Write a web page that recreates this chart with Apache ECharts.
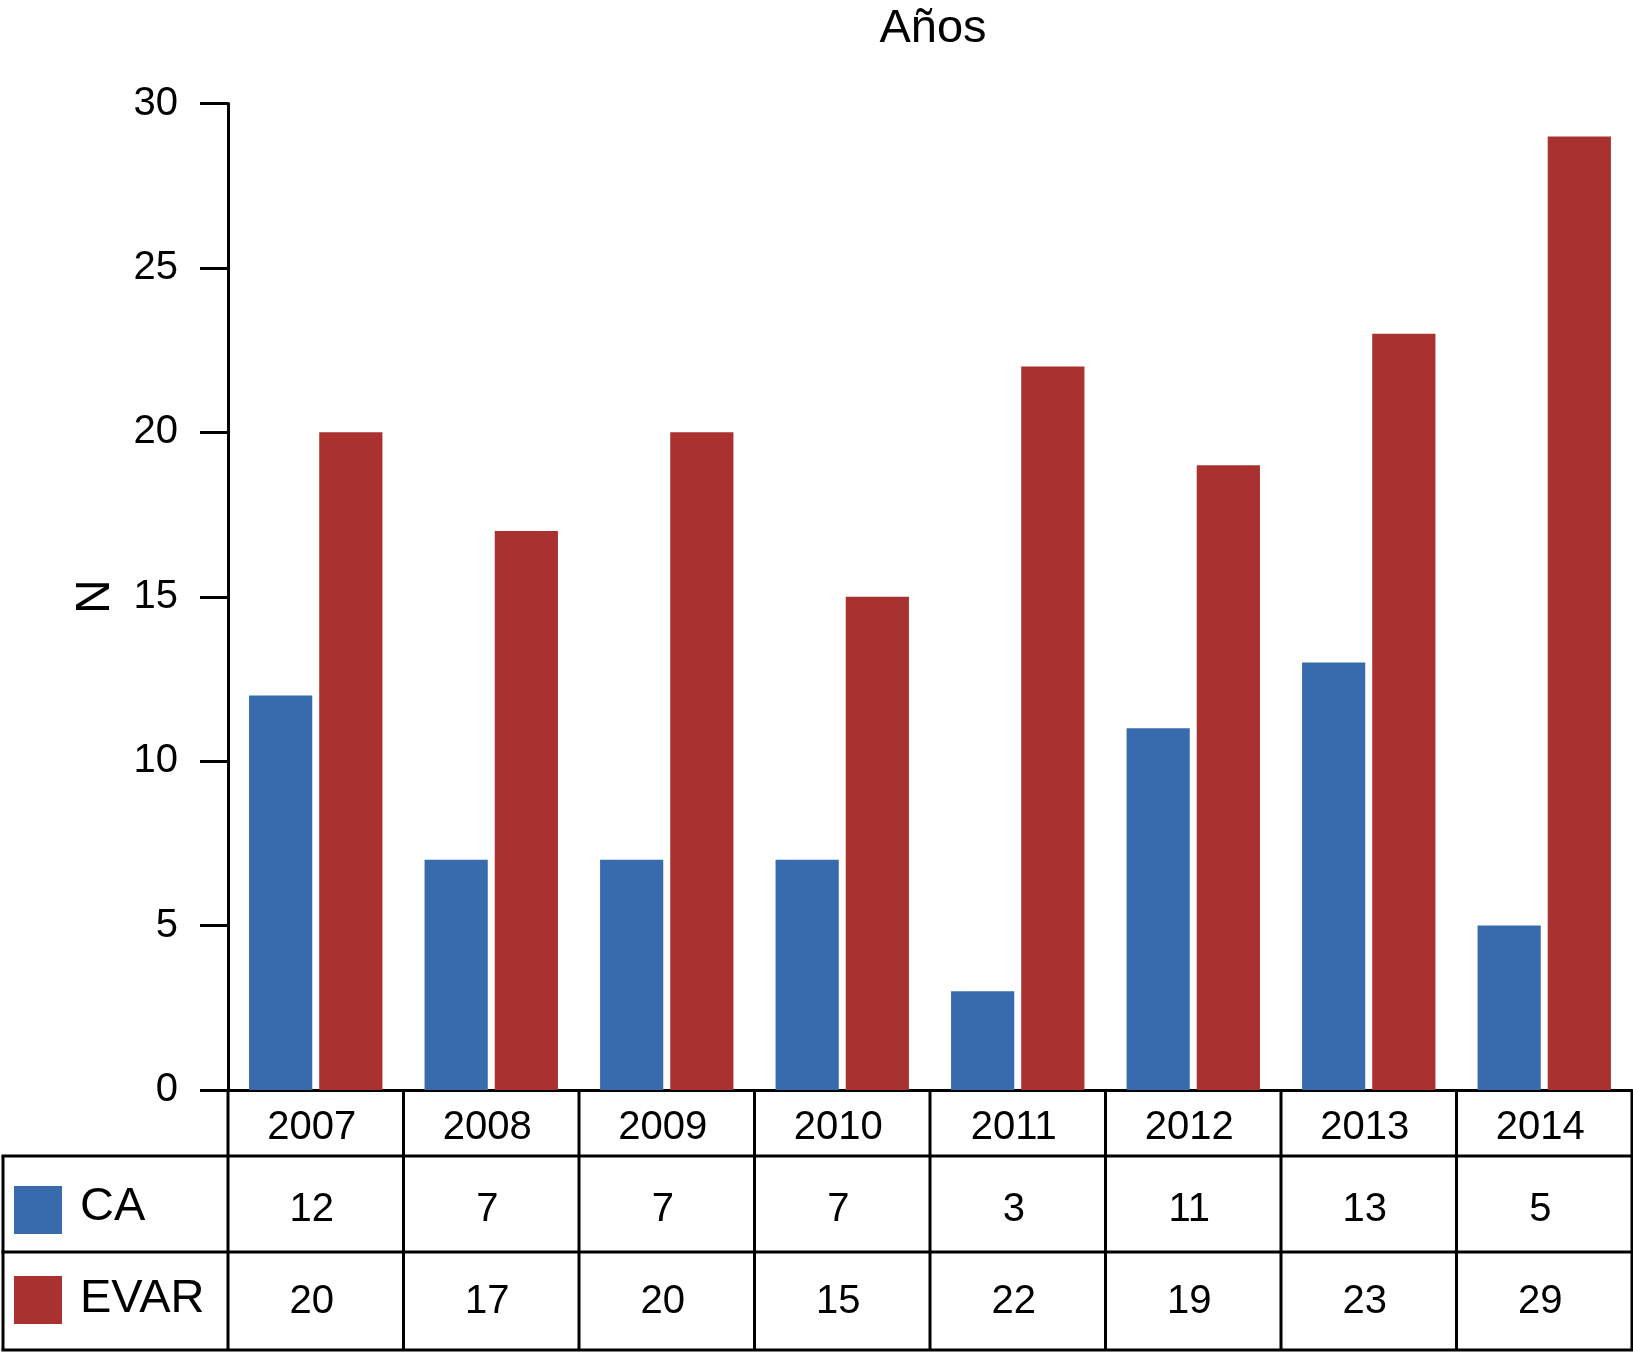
<!DOCTYPE html>
<html>
<head>
<meta charset="utf-8">
<script src="https://cdn.jsdelivr.net/npm/echarts@6/dist/echarts.min.js"></script>
<style>
html,body{margin:0;padding:0;background:#fff;}
#main{width:1633px;height:1352px;}
</style>
</head>
<body>
<div id="main"></div>
<script>
var years = ['2007','2008','2009','2010','2011','2012','2013','2014'];
var seriesNames = ['CA','EVAR'];
var caValues = [12,7,7,7,3,11,13,5];
var evarValues = [20,17,20,15,22,19,23,29];
var yTicks = [0,5,10,15,20,25,30];

var FONT = '"Liberation Sans", Arial, Helvetica, sans-serif';
var colors = ['#376BAE', '#A93231'];
var chart = echarts.init(document.getElementById('main'));

var gridLeft = 228, gridRight = 1, gridTop = 103.5, gridBottom = 262;

chart.setOption({
  animation: false,
  backgroundColor: '#fff',
  textStyle: { fontFamily: FONT, color: '#000' },
  title: {
    text: 'Años',
    left: 928,
    textAlign: 'center',
    top: 1,
    textStyle: { fontFamily: FONT, fontSize: 47, fontWeight: 'normal', color: '#000' }
  },
  grid: { left: gridLeft, right: gridRight, top: gridTop, bottom: gridBottom, containLabel: false },
  xAxis: {
    type: 'category',
    data: years,
    axisLine: { show: true, lineStyle: { color: '#000', width: 3 } },
    axisTick: { show: false },
    axisLabel: { fontFamily: FONT, fontSize: 40, color: '#000', margin: 18, lineHeight: 40, padding: [0, 8, 0, 0] },
    splitLine: { show: false }
  },
  yAxis: {
    type: 'value',
    min: yTicks[0],
    max: yTicks[yTicks.length - 1],
    interval: 5,
    name: 'N',
    nameLocation: 'middle',
    nameGap: 108,
    nameTextStyle: { fontFamily: FONT, fontSize: 48, color: '#000' },
    axisLine: { show: true, lineStyle: { color: '#000', width: 3 } },
    axisTick: { show: true, length: 28, lineStyle: { color: '#000', width: 3 } },
    axisLabel: { fontFamily: FONT, fontSize: 40, color: '#000', margin: 50 },
    splitLine: { show: false }
  },
  series: [
    { name: seriesNames[0], type: 'bar', data: caValues, itemStyle: { color: colors[0] }, barCategoryGap: '24%', barGap: '11%' },
    { name: seriesNames[1], type: 'bar', data: evarValues, itemStyle: { color: colors[1] }, barCategoryGap: '24%', barGap: '11%' }
  ]
});

// Build data table below axis from the arrays, positioned with the chart's own scales
var c0 = chart.convertToPixel({ xAxisIndex: 0 }, years[0]);
var c1 = chart.convertToPixel({ xAxisIndex: 0 }, years[1]);
var band = c1 - c0;
var yZero = chart.convertToPixel({ yAxisIndex: 0 }, 0);
var xStart = c0 - band / 2;
var xEnd = c0 + band * (years.length - 0.5);
var rowYearBottom = yZero + 66;
var rowCABottom = yZero + 162;
var rowEVARBottom = yZero + 260;
var tableLeft = 3;
var lw = 3;
var lineStyle = { stroke: '#000', lineWidth: lw };
var g = [];
function line(x1, y1, x2, y2) {
  g.push({ type: 'line', shape: { x1: x1, y1: y1, x2: x2, y2: y2 }, style: lineStyle, z: 10 });
}
// horizontal lines
line(xStart, rowYearBottom, xEnd, rowYearBottom);
line(tableLeft - 1.5, rowYearBottom, xStart, rowYearBottom);
line(tableLeft - 1.5, rowCABottom, xEnd + 1.5, rowCABottom);
line(tableLeft - 1.5, rowEVARBottom, xEnd + 1.5, rowEVARBottom);
// vertical lines
for (var i = 0; i <= years.length; i++) {
  var x = xStart + band * i;
  line(x, yZero, x, rowEVARBottom);
}
line(tableLeft, rowYearBottom, tableLeft, rowEVARBottom);

var rowData = [caValues, evarValues];
var rowCenters = [yZero + 120, yZero + 212];
var legendCenters = [yZero + 120, yZero + 210];
for (var r = 0; r < 2; r++) {
  g.push({
    type: 'rect',
    shape: { x: 14, y: legendCenters[r] - 24, width: 48, height: 48 },
    style: { fill: colors[r] }
  });
  g.push({
    type: 'text',
    x: 80,
    y: rowCenters[r] - 3,
    style: { text: seriesNames[r], font: '47px ' + FONT, fill: '#000', textAlign: 'left', textVerticalAlign: 'middle' }
  });
  for (var k = 0; k < years.length; k++) {
    var cx = chart.convertToPixel({ xAxisIndex: 0 }, years[k]);
    g.push({
      type: 'text',
      x: cx - 4,
      y: rowCenters[r],
      style: { text: String(rowData[r][k]), font: '40px ' + FONT, fill: '#000', textAlign: 'center', textVerticalAlign: 'middle' }
    });
  }
}
chart.setOption({ graphic: { elements: g } });
</script>
</body>
</html>
